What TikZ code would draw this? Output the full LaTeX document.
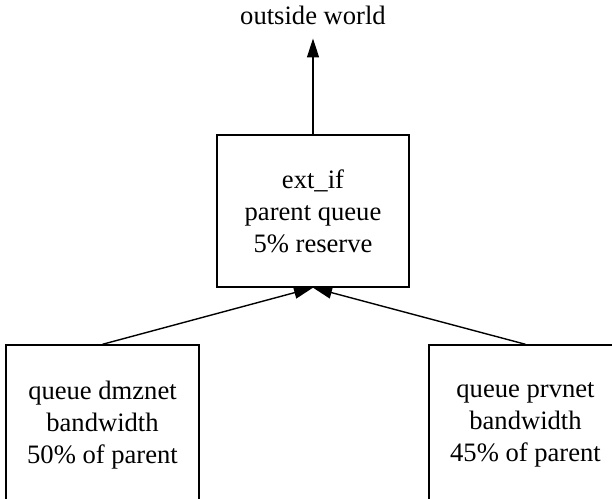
\documentclass[tikz,border=0pt]{standalone}
\usepackage{fontspec}
\setmainfont{Liberation Serif}
\usepackage{tikz}
\usetikzlibrary{arrows.meta}

\begin{document}
\begin{tikzpicture}[x=1pt,y=1pt,
		box_style/.style={rectangle,draw=black,line width=1.4pt,align=center,inner sep=0pt,
			font=\rmfamily\fontsize{26.6}{32}\selectfont},
		text_style/.style={inner xsep=0pt,inner ysep=13pt,font=\rmfamily\fontsize{26.6}{32}\selectfont},
		edge_style/.style={draw=black,line width=1.4pt,-{Triangle[length=19pt,width=12pt]}}]

		\useasboundingbox (0,0) rectangle (612,498);

		\node[text_style,anchor=base] (world) at (313,473) {outside world};
		\node[box_style,minimum width=192pt,minimum height=152pt] (ext_if) at (313,287) {ext\_if\\parent queue\\5\% reserve};
		\node[box_style,minimum width=193pt,minimum height=160pt] (dmznet) at (102.5,73) {queue dmznet\\bandwidth\\50\% of parent};
		\node[box_style,minimum width=193pt,minimum height=160pt] (prvnet) at (525.5,73) {queue prvnet\\bandwidth\\45\% of parent};

		\draw[edge_style]  (ext_if.north) -- (world.south);
		\draw[edge_style]  (dmznet.north) -- (ext_if.south);
		\draw[edge_style]  (prvnet.north) -- (ext_if.south);

\end{tikzpicture}
\end{document}
